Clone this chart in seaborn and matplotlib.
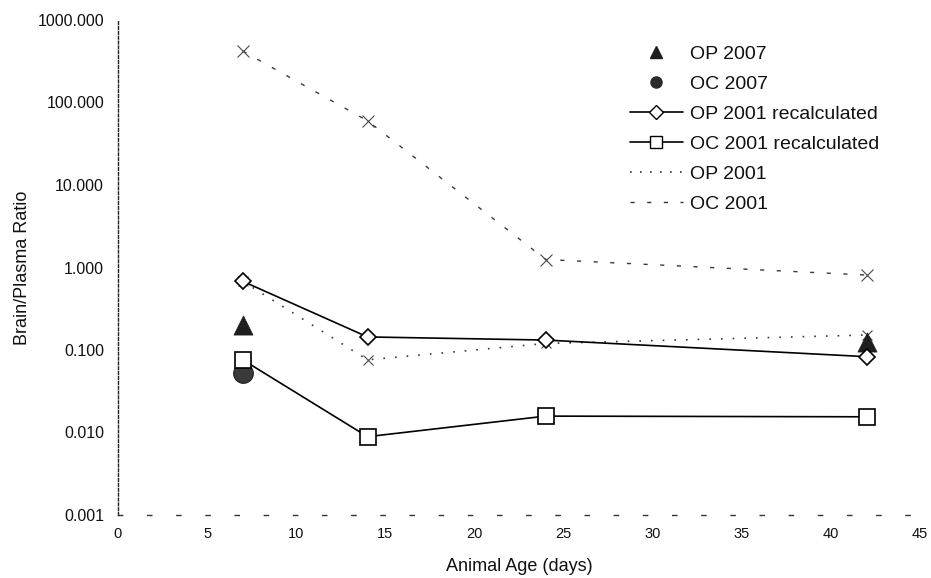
import matplotlib
matplotlib.use("Agg")
import matplotlib.pyplot as plt
from matplotlib.lines import Line2D
import seaborn as sns
import pandas as pd

# ---- data ----
age = [7, 14, 24, 42]
op_2001_recalc = [0.68, 0.144, 0.132, 0.083]
oc_2001_recalc = [0.076, 0.0089, 0.0158, 0.0155]
op_2001 = [0.68, 0.076, 0.12, 0.152]
oc_2001 = [420, 60, 1.25, 0.81]
age_2007 = [7, 42]
op_2007 = [0.20, 0.125]
oc_2007_age = [7]
oc_2007 = [0.053]

y_ticks = [0.001, 0.01, 0.1, 1, 10, 100, 1000]
x_ticks = [0, 5, 10, 15, 20, 25, 30, 35, 40, 45]

sns.set_theme(style="white")
plt.rcParams["font.family"] = ["Liberation Sans", "DejaVu Sans"]

W, H = 931, 578
fig = plt.figure(figsize=(W / 100, H / 100), dpi=100)
ax = fig.add_axes([118 / W, 1 - 515 / H, (920 - 118) / W, (515 - 20) / H])

df_oc01 = pd.DataFrame({"age": age, "ratio": oc_2001})
df_op01 = pd.DataFrame({"age": age, "ratio": op_2001})
df_opr = pd.DataFrame({"age": age, "ratio": op_2001_recalc})
df_ocr = pd.DataFrame({"age": age, "ratio": oc_2001_recalc})
df_op07 = pd.DataFrame({"age": age_2007, "ratio": op_2007})
df_oc07 = pd.DataFrame({"age": oc_2007_age, "ratio": oc_2007})

# old 2001 series (faint, broken lines)
sns.lineplot(data=df_oc01, x="age", y="ratio", ax=ax, estimator=None, sort=False,
             color="#3a3a3a", lw=1.0, linestyle=(0, (3, 9)), marker="x",
             markersize=8, markeredgewidth=0.8, markeredgecolor="#4a4a4a", zorder=2)
sns.lineplot(data=df_op01, x="age", y="ratio", ax=ax, estimator=None, sort=False,
             color="#3a3a3a", lw=1.2, linestyle=(0, (1, 6)), marker="x",
             markersize=7, markeredgewidth=0.8, markeredgecolor="#4a4a4a", zorder=2)

# 2007 points
sns.scatterplot(data=df_op07, x="age", y="ratio", ax=ax, marker="^", s=190,
                color="#1e1e1e", edgecolor="#1e1e1e", linewidth=0.5, zorder=3)
sns.scatterplot(data=df_oc07, x="age", y="ratio", ax=ax, marker="o", s=200,
                color="#3a3a3a", edgecolor="#1e1e1e", linewidth=0.8, zorder=3)

# recalculated series
sns.lineplot(data=df_opr, x="age", y="ratio", ax=ax, estimator=None, sort=False,
             color="black", lw=1.2, marker="D", markersize=8,
             markerfacecolor="white", markeredgecolor="black", markeredgewidth=1.2, zorder=4)
sns.lineplot(data=df_ocr, x="age", y="ratio", ax=ax, estimator=None, sort=False,
             color="black", lw=1.2, marker="s", markersize=11,
             markerfacecolor="white", markeredgecolor="black", markeredgewidth=1.2, zorder=4)

ax.set_yscale("log")
ax.set_ylim(0.001, 1000)
ax.set_xlim(0, 45)
ax.set_yticks(y_ticks)
ax.set_yticklabels([f"{v:.3f}" for v in y_ticks])
ax.yaxis.set_minor_locator(matplotlib.ticker.NullLocator())
ax.set_xticks(x_ticks)
ax.set_xticklabels([str(v) for v in x_ticks])
ax.tick_params(axis="y", length=0, pad=10, labelsize=11.5, labelcolor="#111111")
ax.tick_params(axis="x", length=0, pad=9, labelsize=10.5, labelcolor="#111111")

ax.set_xlabel("Animal Age (days)", fontsize=13, color="#111111", labelpad=12)
ax.set_ylabel("Brain/Plasma Ratio", fontsize=13, color="#111111", labelpad=5)

for s in ["top", "right"]:
    ax.spines[s].set_visible(False)
ax.spines["left"].set_color("#222222")
ax.spines["left"].set_linewidth(1.0)
ax.spines["left"].set_linestyle((0, (2, 1.5)))
ax.spines["bottom"].set_color("#333333")
ax.spines["bottom"].set_linewidth(1.0)
ax.spines["bottom"].set_linestyle((0, (3, 18)))

handles = [
    Line2D([], [], linestyle="none", marker="^", markersize=9, color="#1e1e1e"),
    Line2D([], [], linestyle="none", marker="o", markersize=8, color="#2a2a2a"),
    Line2D([], [], color="black", lw=1.2, marker="D", markersize=7,
           markerfacecolor="white", markeredgecolor="black"),
    Line2D([], [], color="black", lw=1.2, marker="s", markersize=9,
           markerfacecolor="white", markeredgecolor="black"),
    Line2D([], [], color="#333333", lw=1.2, linestyle=(0, (1, 5))),
    Line2D([], [], color="#333333", lw=1.0, linestyle=(0, (3, 9))),
]
labels = ["OP 2007", "OC 2007", "OP 2001 recalculated", "OC 2001 recalculated",
          "OP 2001", "OC 2001"]
leg = ax.legend(handles, labels, loc="upper left", bbox_to_anchor=(630 / W, 1 - 45 / H),
                bbox_transform=fig.transFigure, frameon=False, fontsize=14,
                handlelength=2.7, handletextpad=0.4, labelspacing=0.64, borderpad=0,
                borderaxespad=0)
for t in leg.get_texts():
    t.set_color("#111111")

fig.savefig("out.png", dpi=100)
